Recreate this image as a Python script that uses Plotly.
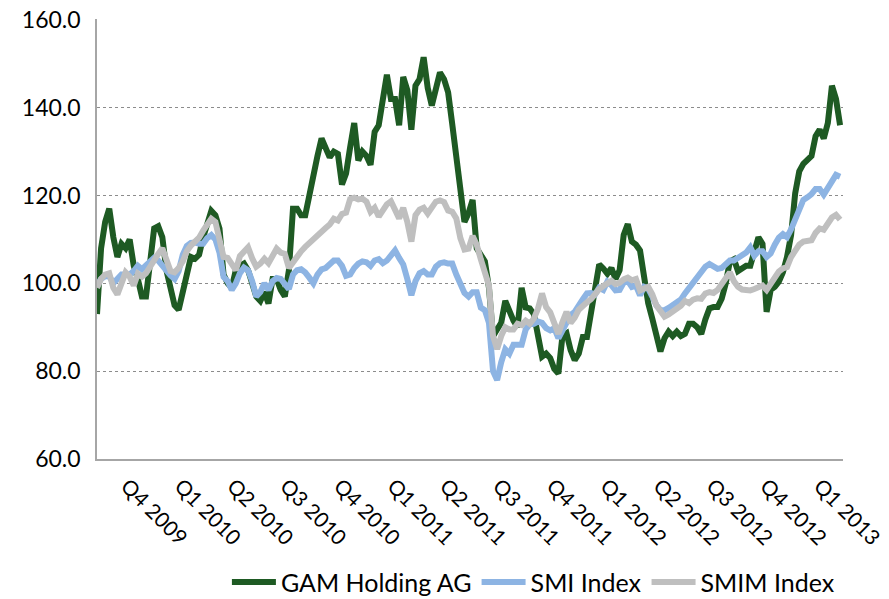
import pandas as pd
import plotly.graph_objects as go

start_date = "2009-08-21"
n_weeks = 183

gam = [93, 108, 114, 117, 110.5, 106, 109, 108, 110, 104, 101, 97, 97, 105, 112.5, 113, 110.5, 103, 99.5, 95,
       94, 98.4, 103, 106, 105.6, 106.5, 110.5, 113.6, 116.5, 115.5, 112.5, 102, 100, 99, 103, 104, 104.5, 103, 100, 97,
       96, 98, 95.4, 101, 101, 98.5, 97, 103, 117, 117, 115.5, 115.5, 120, 125, 129, 133, 131, 128.7, 130, 129.5,
       122.5, 125, 131, 136.5, 128, 130, 129, 127, 134.5, 136, 141.8, 147.5, 142, 142, 136, 147, 144, 135, 145, 146.5,
       151.5, 144.5, 140.5, 145, 148, 146.5, 143.5, 136.3, 129, 120, 114, 116, 119, 108, 106.5, 105, 99, 88, 89.5, 91,
       96, 93.5, 91.5, 90, 99, 94.5, 94.3, 93, 88, 83.3, 84, 83, 80.5, 79.5, 88, 88.6, 84.8, 82.5, 84, 87.8,
       87.8, 93, 98.4, 104.3, 103.4, 102.2, 103.5, 101, 103, 111, 113.5, 109.5, 108.8, 107.5, 101.5, 95.5, 92, 87.5, 84.5, 87.5,
       89, 88, 89, 88, 88.5, 90.8, 90.8, 90, 88.5, 91.8, 94.3, 94.6, 94.6, 96.5, 100, 105, 105.5, 102.8, 103.5, 104,
       104, 107, 110.5, 109, 93.5, 98.5, 99.2, 100.4, 102.5, 106, 111, 120.5, 125.5, 127.2, 128, 129, 133.5, 135, 133, 136.5,
       145, 142, 136]

smi = [99.5, 101, 101.6, 101.6, 100, 101, 102, 102, 102, 102.8, 104, 103.2, 104, 105.2, 105.8, 105.2, 104, 103.2, 101.8, 101,
       102.8, 106.5, 108.5, 109.2, 109.3, 109, 109, 110.3, 111, 110, 107, 101.5, 100.5, 98.5, 100, 102.3, 103.6, 103, 100.5, 97,
       98, 100, 98.5, 100.5, 101.2, 101, 99.6, 98.7, 102, 103, 103.2, 102.5, 101.3, 100, 102, 103.2, 103.5, 104.3, 105.2, 105.2,
       104, 101.7, 102, 103.5, 104.5, 105, 104.8, 104, 105.2, 105.5, 104.6, 105.2, 106.4, 107.5, 105.8, 104.3, 101, 97.3, 100.5, 102.3,
       102.8, 102, 102, 103.8, 104.6, 104.8, 104.5, 104.5, 102, 99.8, 97.8, 97, 98, 98, 94.5, 93.9, 91, 80, 78, 82,
       85, 84, 86, 86, 86, 89.5, 90.7, 90.8, 91.3, 91, 89.8, 89.3, 89.8, 87.5, 89.5, 91.6, 92.8, 93.5, 94.7, 96.4,
       97.7, 97.8, 97.5, 99, 98.5, 100.4, 99.6, 98.4, 98.5, 100.2, 100.6, 99.2, 99.5, 97.3, 99.2, 98.8, 97, 95, 93.9, 93.9,
       94.4, 95, 95.6, 96.3, 97.7, 98.9, 99.7, 101, 102.6, 103.8, 104.4, 104, 103.3, 103.5, 104.6, 105.2, 105.2, 105.7, 106.3, 107,
       108.2, 106.3, 107.3, 107.3, 106, 106.8, 108.8, 110.4, 111.2, 110.5, 112.3, 114.7, 117.3, 119, 119.6, 120.3, 121.5, 121.5, 120.2, 121.8,
       123.4, 124.7, 124.3]

smim = [99, 101, 102, 102.3, 99, 97.5, 100, 102.5, 101.5, 99.5, 102.2, 101.5, 102.3, 104, 105.5, 106.7, 108, 105, 102.8, 102.5,
        103.5, 105, 107.3, 108.6, 109.5, 110.4, 112, 113.6, 114.7, 114, 110.5, 106, 105.8, 104.6, 103, 106.2, 107, 108.2, 105.7, 103.8,
        104.5, 105.6, 104.6, 106.5, 107.9, 107, 106.7, 103.5, 104.8, 106.4, 107.3, 108.3, 109.2, 109.9, 111.2, 112.1, 112.6, 113.4, 114.7, 114.3,
        115.8, 116.1, 119.2, 119.5, 119.1, 119.3, 118.6, 116.3, 117.2, 115.2, 116.5, 118, 118.7, 117, 114.8, 117.2, 114, 109.5, 115.5, 116.8,
        117.2, 115.9, 117.5, 118.6, 118.9, 118.5, 116.6, 116.3, 114.8, 110.3, 107.7, 107.9, 110.8, 108.8, 105.5, 102.8, 99.5, 88, 85, 88,
        90, 89.5, 89.5, 90.8, 90.5, 91.5, 90.8, 92, 94.2, 97.7, 94.6, 93.4, 91.3, 88.5, 91.2, 93.5, 91, 92.2, 94, 95,
        95.7, 96.4, 97.7, 98.7, 99.4, 99.9, 100.6, 99.8, 100.1, 100.9, 101.3, 100.7, 101, 98.4, 99, 99.2, 97.5, 95, 93.7, 92.4,
        92.9, 93.5, 94.2, 94.9, 96, 95.5, 96.3, 96.6, 96.5, 97.7, 98, 97.8, 98.5, 99.7, 101, 102.5, 100.5, 99.2, 98.6, 98.4,
        98.4, 98.7, 99.1, 99.5, 98.5, 100, 101.5, 102.7, 103.4, 103.7, 106, 107.7, 108.8, 109.5, 109.8, 109.8, 111.5, 112.5, 112.2, 113.5,
        115, 115.6, 114.5]

tick_dates = ["2009-10-01", "2010-01-01", "2010-04-01", "2010-07-01", "2010-10-01", "2011-01-01", "2011-04-01",
              "2011-07-01", "2011-10-01", "2012-01-01", "2012-04-01", "2012-07-01", "2012-10-01", "2013-01-01"]
tick_labels = ["Q4 2009", "Q1 2010", "Q2 2010", "Q3 2010", "Q4 2010", "Q1 2011", "Q2 2011",
               "Q3 2011", "Q4 2011", "Q1 2012", "Q2 2012", "Q3 2012", "Q4 2012", "Q1 2013"]
y_ticks = [60, 80, 100, 120, 140, 160]

dates = pd.date_range(start_date, periods=n_weeks, freq="7D")

FONT = "Lato, 'Open Sans', sans-serif"
fig = go.Figure()
series = [("GAM Holding AG", gam, "#1e5a23"),
          ("SMI Index", smi, "#8db4e3"),
          ("SMIM Index", smim, "#bfbfbf")]
for name, vals, col in series:
    fig.add_trace(go.Scatter(x=dates, y=vals, mode="lines", name=name,
                             line=dict(color=col, width=6)))

# the page body adds an 8px offset, so the figure is sized to fit the window
fig.update_layout(
    width=881, height=591,
    margin=dict(l=89, r=46, t=11, b=140, autoexpand=False),
    paper_bgcolor="white", plot_bgcolor="white",
    font=dict(family=FONT, size=23, color="black"),
    showlegend=True,
    legend=dict(orientation="h", x=0.585, xanchor="center", y=-0.28, yanchor="middle",
                font=dict(size=25), itemwidth=44, tracegroupgap=0),
)
fig.update_xaxes(type="date", range=["2009-08-21", "2013-02-20"], automargin=False,
                 tickvals=tick_dates, ticktext=tick_labels, tickangle=45,
                 ticklabelshift=6, ticklabelstandoff=5, ticklabeloverflow="allow",
                 showgrid=False, showline=True, linecolor="#a6a6a6", linewidth=1.5,
                 ticks="", zeroline=False, tickfont=dict(size=21))
fig.update_yaxes(range=[60, 160.2], tickvals=y_ticks, tickformat=".1f", automargin=False,
                 ticklabeloverflow="allow",
                 showgrid=True, gridcolor="#8c8c8c", griddash="dot", gridwidth=1,
                 showline=True, linecolor="#a6a6a6", linewidth=1.5,
                 ticks="", zeroline=False, tickfont=dict(size=23), ticklabelstandoff=10)

fig.write_html("out.html")
